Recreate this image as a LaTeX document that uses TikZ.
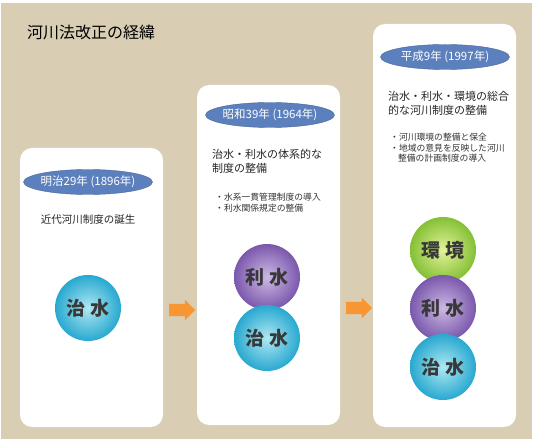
\documentclass[tikz,border=0pt]{standalone}
\usepackage{fontspec}
\setmainfont{Noto Sans CJK JP}
\usetikzlibrary{shapes.geometric,shapes.arrows}
\definecolor{bgtan}{RGB}{217,205,179}
\definecolor{erablue}{RGB}{92,128,190}
\definecolor{flowor}{RGB}{247,150,50}
\definecolor{chiin}{RGB}{175,232,242}
\definecolor{chiout}{RGB}{40,168,208}
\definecolor{riin}{RGB}{205,185,228}
\definecolor{riout}{RGB}{122,88,172}
\definecolor{kanin}{RGB}{228,242,155}
\definecolor{kanout}{RGB}{132,192,52}

\begin{document}
\begin{tikzpicture}[x=1pt, y=-1pt,
	panel/.style={fill=white, rounded corners=12pt, inner sep=0pt, minimum width=143pt},
	era/.style={ellipse, fill=erablue, draw=erablue!80!black, text=white, inner xsep=-10pt, inner ysep=0pt, minimum width=129pt, minimum height=25pt, font=\fontsize{11.5}{12}\selectfont},
	head/.style={anchor=north west, align=left, inner sep=0pt, font=\fontsize{11}{14.5}\selectfont, text=black!85},
	note/.style={anchor=north west, align=left, inner sep=0pt, font=\fontsize{8.8}{10.5}\selectfont, text=black!80},
	ball/.style={circle, minimum size=66pt, inner sep=0pt, shading=radial, font=\bfseries\fontsize{19}{20}\selectfont, text=black!78},
	chisui/.style={ball, inner color=chiin, outer color=chiout},
	risui/.style={ball, inner color=riin, outer color=riout},
	kankyo/.style={ball, inner color=kanin, outer color=kanout},
	flow/.style={single arrow, fill=flowor, inner xsep=0pt, inner ysep=6pt, minimum height=26pt, single arrow head extend=4pt}]
\useasboundingbox (0,0) rectangle (535,446);
\fill[bgtan] (1,3) rectangle (532,439);
\node[anchor=west, inner sep=0pt, font=\fontsize{16}{16}\selectfont] (title) at (27,32) {河川法改正の経緯};

% 明治
\node[panel, minimum height=279pt] (meiji) at (91.5,287.5) {};
\node[era] (meijiyear) at (88,182) {明治29年 (1896年)};
\node[inner sep=0pt, font=\fontsize{10.5}{12}\selectfont, text=black!85] (meijihead) at (88,220) {近代河川制度の誕生};
\node[chisui] (chisui1) at (88,308) {治 水};

\node[flow] (flow1) at (179,310) {};

% 昭和
\node[panel, minimum height=340pt] (showa) at (268.5,255) {};
\node[era] (showayear) at (270,115) {昭和39年 (1964年)};
\node[head] (showahead) at (212,149) {治水・利水の体系的な\\制度の整備};
\node[note] (showanote) at (215,193) {・水系一貫管理制度の導入\\・利水関係規定の整備};
\node[risui] (risui2) at (267,277) {利 水};
\node[chisui] (chisui2) at (267,338) {治 水};

\node[flow] (flow2) at (356,308) {};

% 平成
\node[panel, minimum height=403pt] (heisei) at (444.5,225.5) {};
\node[era] (heiseiyear) at (445,57) {平成9年 (1997年)};
\node[head] (heiseihead) at (388,91) {治水・利水・環境の総合\\的な河川制度の整備};
\node[note] (heiseinote) at (390,133) {・河川環境の整備と保全\\・地域の意見を反映した河川\\\hspace*{0.9em}整備の計画制度の導入};
\node[kankyo] (kankyo3) at (443,250) {環 境};
\node[risui] (risui3) at (443,308) {利 水};
\node[chisui] (chisui3) at (443,367) {治 水};
\end{tikzpicture}
\end{document}
